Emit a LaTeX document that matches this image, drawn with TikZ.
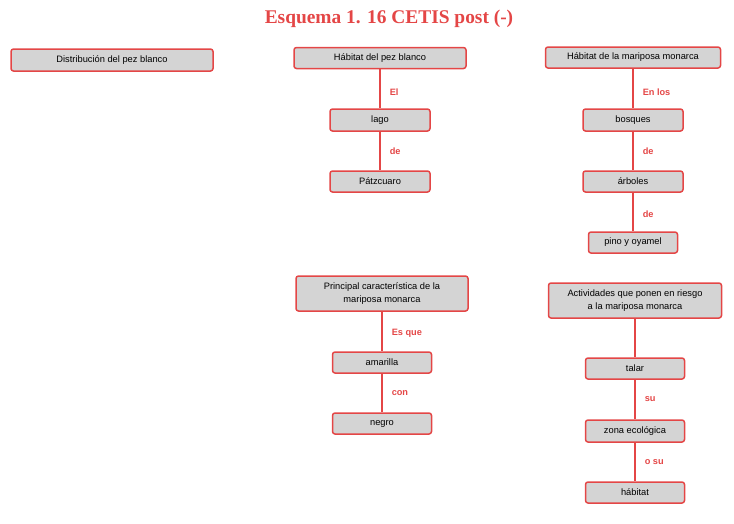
\documentclass[tikz,border=0pt]{standalone}
\usepackage{fontspec}
\setmainfont{Liberation Sans}
\newfontfamily\titulofont{Liberation Serif}
\definecolor{rojo}{RGB}{228,70,70}
\definecolor{grisbox}{RGB}{212,212,212}
\tikzset{
  concepto/.style={draw=rojo, line width=1.5pt, rounded corners=2.5pt, fill=grisbox, inner sep=0pt, align=center, font=\fontsize{9.3}{12.5}\selectfont},
  enlace/.style={midway, anchor=west, xshift=9pt, text=rojo, font=\fontsize{9.2}{10}\selectfont\bfseries, inner sep=0pt},
  liga/.style={draw=rojo, line width=1.5pt}
}
\begin{document}
\begin{tikzpicture}[x=1pt, y=-1pt]
      % Fondo y titulo
      \useasboundingbox (0,0) rectangle (734,523);
      \node[text=rojo, font=\titulofont\fontsize{19.4}{21}\selectfont\bfseries] (titulo) at (389,18.5) {Esquema 1. 16 CETIS post (-)};

      % Concepto aislado
      \node[concepto, minimum width=202pt, minimum height=22pt] (distrib) at (112,60) {Distribución del pez blanco};

      % Habitat del pez blanco
      \node[concepto, minimum width=172pt, minimum height=21pt] (habpez) at (380,58) {Hábitat del pez blanco};
      \node[concepto, minimum width=100pt, minimum height=22pt] (lago) at (380,120) {lago};
      \node[concepto, minimum width=100pt, minimum height=21pt] (patz) at (380,181.5) {Pátzcuaro};
      \draw[liga] (habpez) -- node[enlace, yshift=-3.5pt] {El} (lago);
      \draw[liga] (lago) -- node[enlace] {de} (patz);

      % Habitat de la mariposa monarca
      \node[concepto, minimum width=175pt, minimum height=21pt] (habmar) at (633,57.5) {Hábitat de la mariposa monarca};
      \node[concepto, minimum width=100pt, minimum height=22pt] (bosq) at (633,120) {bosques};
      \node[concepto, minimum width=100pt, minimum height=21pt] (arbol) at (633,181.5) {árboles};
      \node[concepto, minimum width=89pt, minimum height=21pt] (pino) at (633,242.5) {pino y oyamel};
      \draw[liga] (habmar) -- node[enlace, yshift=-4pt] {En los} (bosq);
      \draw[liga] (bosq) -- node[enlace] {de} (arbol);
      \draw[liga] (arbol) -- node[enlace, yshift=-2pt] {de} (pino);

      % Caracteristica de la mariposa
      \node[concepto, minimum width=172pt, minimum height=35pt] (princ) at (382,293.5) {Principal característica de la\\mariposa monarca};
      \node[concepto, minimum width=99pt, minimum height=21pt] (amar) at (382,362.5) {amarilla};
      \node[concepto, minimum width=99pt, minimum height=21pt] (negro) at (382,423.5) {negro};
      \draw[liga] (princ) -- node[enlace, yshift=-2pt] {Es que} (amar);
      \draw[liga] (amar) -- node[enlace] {con} (negro);

      % Actividades de riesgo
      \node[concepto, minimum width=173pt, minimum height=35pt] (activ) at (635,300.5) {Actividades que ponen en riesgo\\a la mariposa monarca};
      \node[concepto, minimum width=99pt, minimum height=21pt] (talar) at (635,368.5) {talar};
      \node[concepto, minimum width=99pt, minimum height=22pt] (zona) at (635,431) {zona ecológica};
      \node[concepto, minimum width=99pt, minimum height=21pt] (habit) at (635,492.5) {hábitat};
      \draw[liga] (activ) -- (talar);
      \draw[liga] (talar) -- node[enlace] {su} (zona);
      \draw[liga] (zona) -- node[enlace] {o su} (habit);
    \end{tikzpicture}
\end{document}
